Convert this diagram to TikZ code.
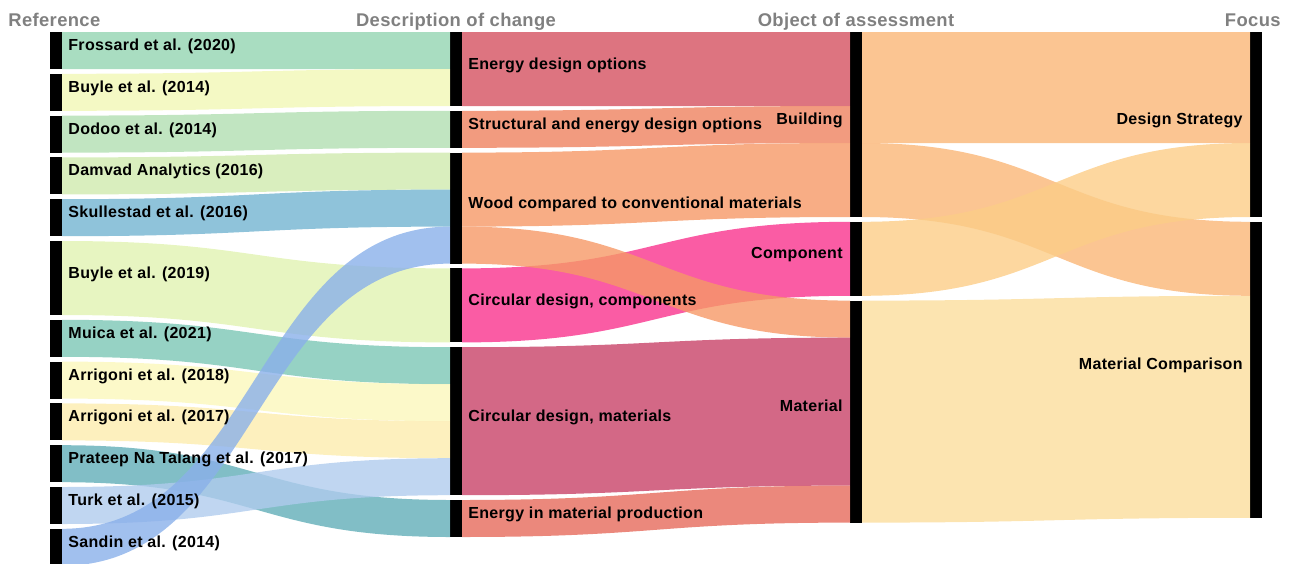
\documentclass[tikz,border=0pt]{standalone}
\usepackage{fontspec}
\setmainfont{Liberation Sans}
\newfontfamily\lblfont[LetterSpace=2]{Liberation Sans Bold}
\usetikzlibrary{positioning,calc}

% band colours (drawn at 0.8 opacity)
\definecolor{cFrossard}{RGB}{147,212,177}
\definecolor{cBuyleA}{RGB}{241,247,181}
\definecolor{cDodoo}{RGB}{177,223,177}
\definecolor{cDamvad}{RGB}{208,234,174}
\definecolor{cSkull}{RGB}{115,180,209}
\definecolor{cBuyleB}{RGB}{225,243,177}
\definecolor{cMuica}{RGB}{124,199,181}
\definecolor{cArrA}{RGB}{251,247,187}
\definecolor{cArrB}{RGB}{252,236,174}
\definecolor{cPrateep}{RGB}{97,174,184}
\definecolor{cTurk}{RGB}{176,204,238}
\definecolor{cSandin}{RGB}{138,176,234}
\definecolor{cEdo}{RGB}{212,81,96}
\definecolor{cSedo}{RGB}{239,130,95}
\definecolor{cWood}{RGB}{246,153,103}
\definecolor{cCdc}{RGB}{249,51,141}
\definecolor{cCdm}{RGB}{200,66,104}
\definecolor{cEmp}{RGB}{230,106,91}
\definecolor{cBuild}{RGB}{250,182,119}
\definecolor{cComp}{RGB}{252,205,135}
\definecolor{cMat}{RGB}{251,221,156}
\definecolor{headgray}{RGB}{128,128,128}

\newcommand{\fu}{18.5pt}
% \flow{colour}{from}{offset}{to}{offset}{units}
\newcommand{\flow}[6]{%
  \path (#2.north east) ++(0,-#3*\fu) coordinate (fa) ++(0,-#6*\fu) coordinate (fb);
  \path (#4.north west) ++(0,-#5*\fu) coordinate (fc) ++(0,-#6*\fu) coordinate (fd);
  \path ($(fa)!0.5!(fc)$) coordinate (fm);
  \fill[band=#1] (fa) .. controls (fm |- fa) and (fm |- fc) .. (fc)
    -- (fd) .. controls (fm |- fd) and (fm |- fb) .. (fb) -- cycle;
}

\tikzset{
  bar/.style={fill=black, minimum width=6pt, inner sep=0pt, outer sep=0pt},
  nunits/.style={minimum height=#1*18.5pt},
  band/.style={fill=#1, fill opacity=0.8},
  lbl/.style={font=\lblfont\fontsize{8pt}{9pt}\selectfont, inner sep=0pt},
  head/.style={font=\lblfont\fontsize{9.2pt}{10pt}\selectfont, text=headgray, inner sep=0pt},
}

\begin{document}
\begin{tikzpicture}
  \useasboundingbox (0,0) rectangle (645.5pt,-281.5pt);

  % Reference
  \node [bar, nunits=1, anchor=north] (frossard) at (28pt,-16pt) {};
  \node [bar, nunits=1, below=2.4pt of frossard] (buyle14) {};
  \node [bar, nunits=1, below=2.4pt of buyle14] (dodoo) {};
  \node [bar, nunits=1, below=2.4pt of dodoo] (damvad) {};
  \node [bar, nunits=1, below=2.4pt of damvad] (skull) {};
  \node [bar, nunits=2, below=2.4pt of skull] (buyle19) {};
  \node [bar, nunits=1, below=2.4pt of buyle19] (muica) {};
  \node [bar, nunits=1, below=2.4pt of muica] (arr18) {};
  \node [bar, nunits=1, below=2.4pt of arr18] (arr17) {};
  \node [bar, nunits=1, below=2.4pt of arr17] (prateep) {};
  \node [bar, nunits=1, below=2.4pt of prateep] (turk) {};
  \node [bar, nunits=1, below=2.4pt of turk] (sandin) {};

  % Description of change
  \node [bar, nunits=2, anchor=north] (edo) at (228pt,-16pt) {};
  \node [bar, nunits=1, below=2.4pt of edo] (sedo) {};
  \node [bar, nunits=3, below=2.4pt of sedo] (wood) {};
  \node [bar, nunits=2, below=2.4pt of wood] (cdc) {};
  \node [bar, nunits=4, below=2.4pt of cdc] (cdm) {};
  \node [bar, nunits=1, below=2.4pt of cdm] (emp) {};

  % Object of assessment
  \node [bar, nunits=5, anchor=north] (building) at (428pt,-16pt) {};
  \node [bar, nunits=2, below=2.4pt of building] (component) {};
  \node [bar, nunits=6, below=2.4pt of component] (material) {};

  % Focus
  \node [bar, nunits=5, anchor=north] (design) at (628pt,-16pt) {};
  \node [bar, nunits=8, below=2.4pt of design] (matcomp) {};

  % bands
  \flow{cFrossard}{frossard}{0}{edo}{0}{1}
  \flow{cBuyleA}{buyle14}{0}{edo}{1}{1}
  \flow{cDodoo}{dodoo}{0}{sedo}{0}{1}
  \flow{cDamvad}{damvad}{0}{wood}{0}{1}
  \flow{cSkull}{skull}{0}{wood}{1}{1}
  \flow{cBuyleB}{buyle19}{0}{cdc}{0}{2}
  \flow{cMuica}{muica}{0}{cdm}{0}{1}
  \flow{cArrA}{arr18}{0}{cdm}{1}{1}
  \flow{cArrB}{arr17}{0}{cdm}{2}{1}
  \flow{cPrateep}{prateep}{0}{emp}{0}{1}
  \flow{cTurk}{turk}{0}{cdm}{3}{1}
  \flow{cSandin}{sandin}{0}{wood}{2}{1}

  \flow{cEdo}{edo}{0}{building}{0}{2}
  \flow{cSedo}{sedo}{0}{building}{2}{1}
  \flow{cCdc}{cdc}{0}{component}{0}{2}
  \flow{cWood}{wood}{0}{building}{3}{2}
  \flow{cWood}{wood}{2}{material}{0}{1}
  \flow{cCdm}{cdm}{0}{material}{1}{4}
  \flow{cEmp}{emp}{0}{material}{5}{1}

  \flow{cBuild}{building}{0}{design}{0}{3}
  \flow{cBuild}{building}{3}{matcomp}{0}{2}
  \flow{cComp}{component}{0}{design}{3}{2}
  \flow{cMat}{material}{0}{matcomp}{2}{6}

  % labels
  \node [lbl, right=3pt of frossard, anchor=base west] (lfrossard) {Frossard et al. (2020)};
  \node [lbl, right=3pt of buyle14, anchor=base west] (lbuyle14) {Buyle et al. (2014)};
  \node [lbl, right=3pt of dodoo, anchor=base west] (ldodoo) {Dodoo et al. (2014)};
  \node [lbl, right=3pt of damvad, anchor=base west] (ldamvad) {Damvad Analytics (2016)};
  \node [lbl, right=3pt of skull, anchor=base west] (lskull) {Skullestad et al. (2016)};
  \node [lbl, right=3pt of buyle19, anchor=base west] (lbuyle19) {Buyle et al. (2019)};
  \node [lbl, right=3pt of muica, anchor=base west] (lmuica) {Muica et al. (2021)};
  \node [lbl, right=3pt of arr18, anchor=base west] (larr18) {Arrigoni et al. (2018)};
  \node [lbl, right=3pt of arr17, anchor=base west] (larr17) {Arrigoni et al. (2017)};
  \node [lbl, right=3pt of prateep, anchor=base west] (lprateep) {Prateep Na Talang et al. (2017)};
  \node [lbl, right=3pt of turk, anchor=base west] (lturk) {Turk et al. (2015)};
  \node [lbl, right=3pt of sandin, anchor=base west] (lsandin) {Sandin et al. (2014)};

  \node [lbl, right=3pt of edo, anchor=base west] (ledo) {Energy design options};
  \node [lbl, right=3pt of sedo, anchor=base west] (lsedo) {Structural and energy design options};
  \node [lbl, right=3pt of wood, anchor=base west] (lwood) {Wood compared to conventional materials};
  \node [lbl, right=3pt of cdc, anchor=base west] (lcdc) {Circular design, components};
  \node [lbl, right=3pt of cdm, anchor=base west] (lcdm) {Circular design, materials};
  \node [lbl, right=3pt of emp, anchor=base west] (lemp) {Energy in material production};

  \node [lbl, left=3.5pt of building, anchor=base east] (lbuilding) {Building};
  \node [lbl, left=3.5pt of component, anchor=base east] (lcomponent) {Component};
  \node [lbl, left=3.5pt of material, anchor=base east] (lmaterial) {Material};

  \node [lbl, left=3.5pt of design, anchor=base east] (ldesign) {Design Strategy};
  \node [lbl, left=3.5pt of matcomp, anchor=base east] (lmatcomp) {Material Comparison};

  % column heads
  \node [head, anchor=base west] (hreference) at (4pt,-13pt) {Reference};
  \node [head, anchor=base] (hdescription) at ($(edo.north)+(0,3pt)$) {Description of change};
  \node [head, anchor=base] (hobject) at ($(building.north)+(0,3pt)$) {Object of assessment};
  \node [head, anchor=base east] (hfocus) at (640.5pt,-13pt) {Focus};
\end{tikzpicture}
\end{document}
